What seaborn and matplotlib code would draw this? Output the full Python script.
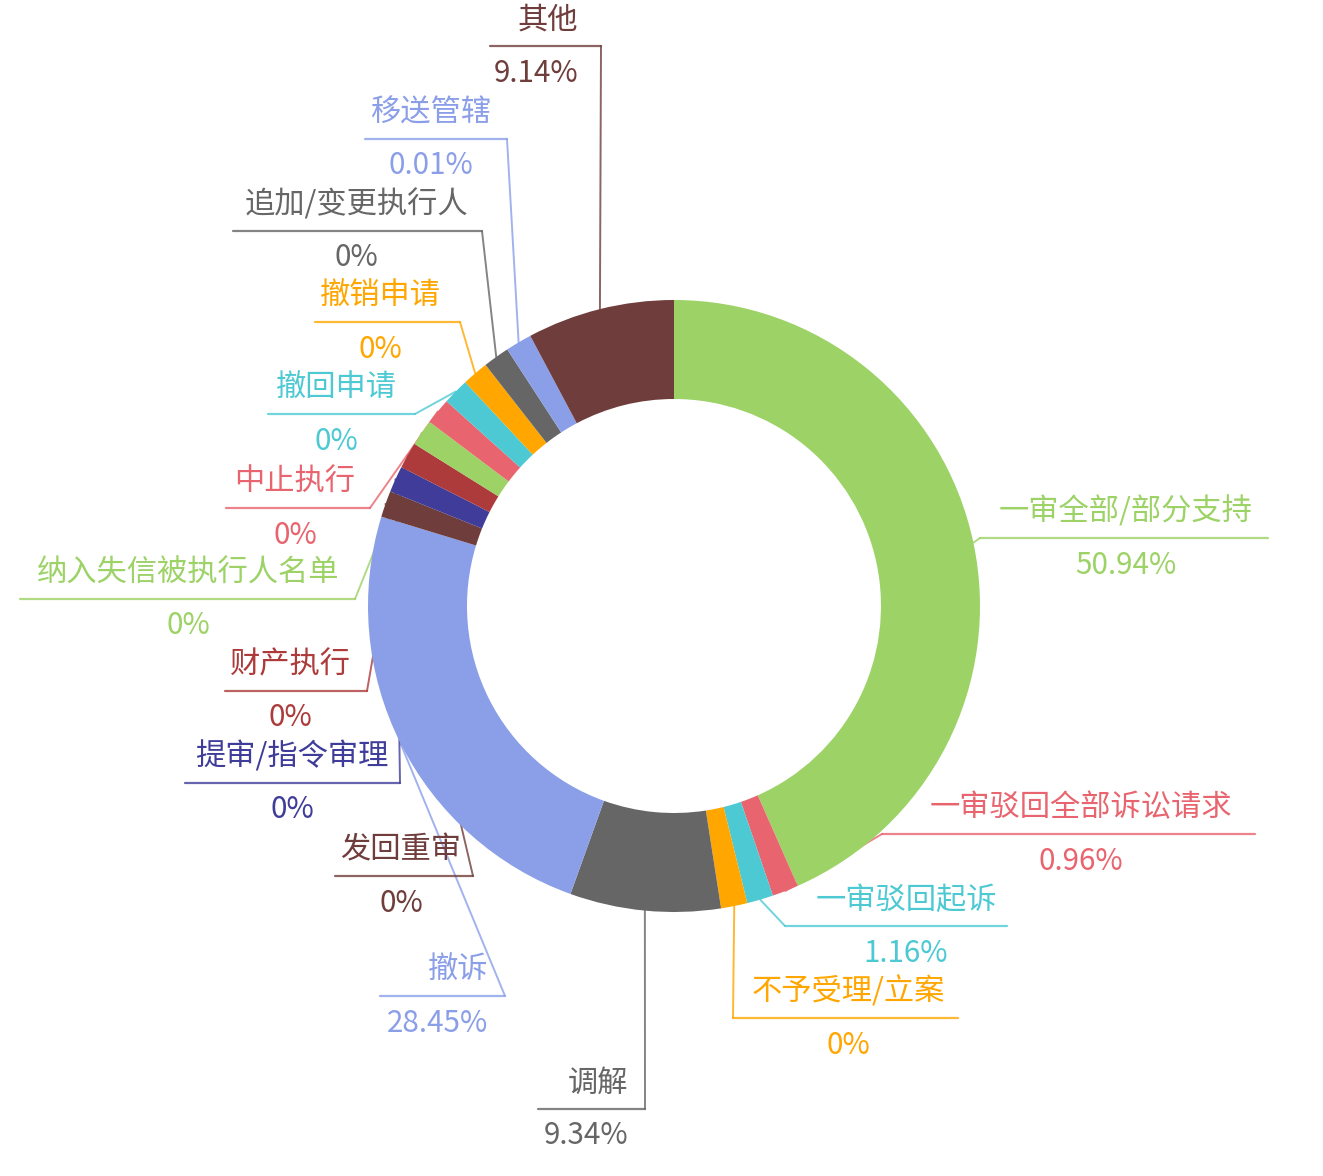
import numpy as np
import matplotlib
matplotlib.use("Agg")
import matplotlib.pyplot as plt
import seaborn as sns

# ---- data ----
categories = ["一审全部/部分支持", "一审驳回全部诉讼请求", "一审驳回起诉", "不予受理/立案",
              "调解", "撤诉", "发回重审", "提审/指令审理", "财产执行", "纳入失信被执行人名单",
              "中止执行", "撤回申请", "撤销申请", "追加/变更执行人", "移送管辖", "其他"]
values = [50.94, 0.96, 1.16, 0, 9.34, 28.45, 0, 0, 0, 0, 0, 0, 0, 0, 0.01, 9.14]
pct_labels = [f"{v:g}%" for v in values]

palette = ["#9CD266", "#E8646E", "#4DC9D3", "#FFA600", "#666666",
           "#8B9FE8", "#6F3E3C", "#3F3D99", "#AD3B3B"]

# label layout in pixel coords of the 1323x1176 canvas (y from top):
# rule_y, rule_x0, rule_x1, text_x, text_align, side the leader attaches to
layout = [
    (538, 980, 1268, 1126, "center", "x0"),
    (834, 882, 1255, 1081, "center", "x0"),
    (926, 785, 1007, 906, "center", "x0"),
    (1018, 733, 958, 848, "center", "x0"),
    (1109, 538, 645, 628, "right", "x1"),
    (996, 380, 505, 488, "right", "x1"),
    (876, 335, 473, 401, "center", "x1"),
    (783, 185, 400, 292, "center", "x1"),
    (691, 225, 367, 290, "center", "x1"),
    (599, 20, 355, 188, "center", "x1"),
    (508, 226, 370, 295, "center", "x1"),
    (414, 268, 415, 336, "center", "x1"),
    (322, 315, 460, 380, "center", "x1"),
    (231, 233, 482, 356, "center", "x1"),
    (139, 365, 507, 431, "center", "x1"),
    (46, 490, 601, 578, "right", "x1"),
]

W, H = 1323, 1176
CX, CY, R, RING = 674, 606, 306, 99
MIN_ANGLE = 5.0

sns.set_theme(style="white")
plt.rcParams["font.family"] = ["Noto Sans CJK SC", "DejaVu Sans"]

# small slices get a minimum angle, the rest share what is left
vals = np.array(values, dtype=float)
raw = vals / vals.sum() * 360
small = raw < MIN_ANGLE
angles = np.where(small, MIN_ANGLE, 0.0)
rest = 360 - MIN_ANGLE * small.sum()
angles[~small] = vals[~small] / vals[~small].sum() * rest

colors = [palette[i % len(palette)] for i in range(len(categories))]

fig = plt.figure(figsize=(W / 100, H / 100), dpi=100)
ax = fig.add_axes([0, 0, 1, 1])

wedges, _ = ax.pie(angles, colors=colors, startangle=90, counterclock=False,
                   center=(CX, H - CY), radius=R,
                   wedgeprops=dict(width=RING, linewidth=0, zorder=2))

fs = 21.8
for w, name, pct, col, (ry, x0, x1, tx, ha, side) in zip(
        wedges, categories, pct_labels, colors, layout):
    mid = np.deg2rad((w.theta1 + w.theta2) / 2)
    px, py = CX + R * np.cos(mid), (H - CY) + R * np.sin(mid)
    ey = H - ry
    ex = x0 if side == "x0" else x1
    ax.plot([px, ex], [py, ey], color=col, lw=1.4, alpha=0.8, zorder=1)
    ax.plot([x0, x1], [ey, ey], color=col, lw=1.6, alpha=0.8, zorder=1)
    ax.text(tx, ey + 26, name, color=col, fontsize=fs, ha=ha, va="center")
    ax.text(tx, ey - 27, pct, color=col, fontsize=fs * 0.98, ha=ha, va="center")

ax.set_xlim(0, W)
ax.set_ylim(0, H)
ax.set_aspect("equal")
ax.axis("off")

fig.savefig("out.png", dpi=100, facecolor="white")
